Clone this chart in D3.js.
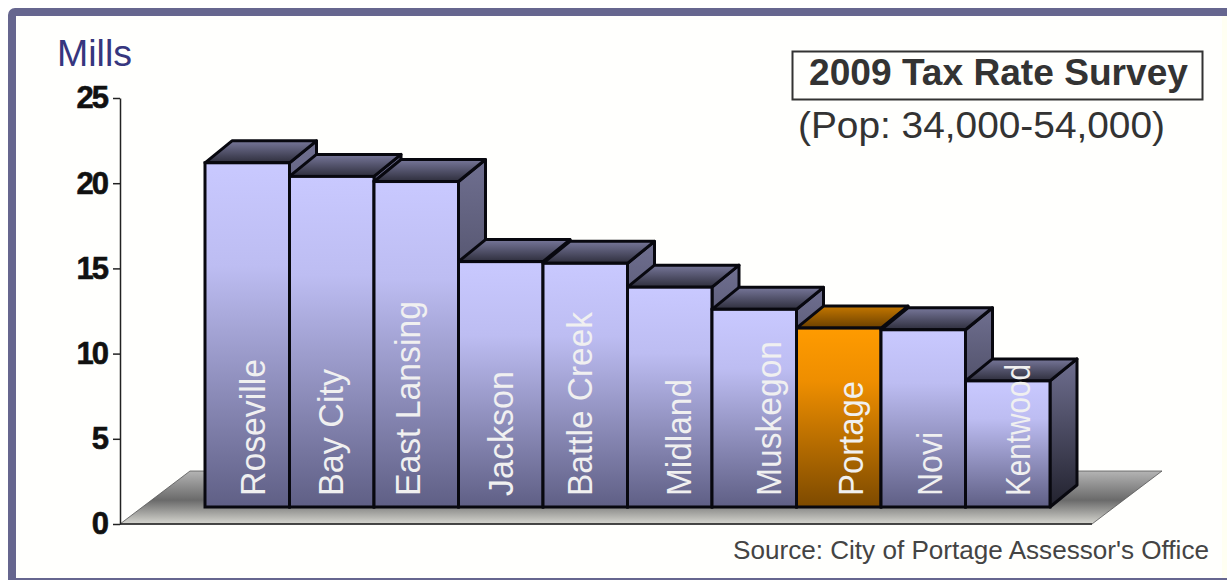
<!DOCTYPE html>
<html>
<head>
<meta charset="utf-8">
<script src="https://cdn.jsdelivr.net/npm/d3@7"></script>
<style>
  html, body { margin: 0; padding: 0; background: #fff; overflow: hidden; }
  text { font-family: "Liberation Sans", Arial, sans-serif; }
</style>
</head>
<body>
<div id="my_dataviz"></div>
<script>
var cities = ["Roseville", "Bay City", "East Lansing", "Jackson", "Battle Creek", "Midland", "Muskegon", "Portage", "Novi", "Kentwood"]
var mills = [20.2, 19.4, 19.1, 14.4, 14.3, 12.9, 11.6, 10.5, 10.4, 7.4]
var highlighted = ["Portage"]
var yTicks = [0, 5, 10, 15, 20, 25]

// the rotated labels are placed by hand in the original, so length and shift differ per bar
var labelLength = [137, 127, 195, 125, 184, 117, 155, 115, 64, 132]
var labelShift = [18, 11, 4, 12, 7, 21, 27, 24, 19, 22]

var width = 1227, height = 580
var depthX = 27, depthY = 22  // fake 3D offset of the bars
var baseLift = 17             // bars stand this far in from the front of the floor

var svg = d3.select("#my_dataviz")
  .append("svg")
    .attr("width", width)
    .attr("height", height)
    .style("display", "block")

var defs = svg.append("defs")

function gradient(id, stops) {
  var g = defs.append("linearGradient")
    .attr("id", id)
    .attr("x1", 0).attr("x2", 0).attr("y1", 0).attr("y2", 1)
  stops.forEach(function(s) {
    g.append("stop").attr("offset", s[0]).attr("stop-color", s[1])
  })
}
gradient("front", [[0, "#c9c9ff"], [0.3, "#bdbdf2"], [1, "#5f5f85"]])
gradient("frontHi", [[0, "#ff9b00"], [0.3, "#ee8e00"], [1, "#7d4a00"]])
gradient("topFace", [[0, "#77779a"], [1, "#2e2e3c"]])
gradient("topHi", [[0, "#c47700"], [1, "#6b4000"]])
gradient("side", [[0, "#6f6f90"], [1, "#22222e"]])
gradient("floor", [[0, "#b4b4b4"], [0.55, "#6a6a6a"], [1, "#d6d6d0"]])

// frame and background
svg.append("rect").attr("width", width).attr("height", height).attr("fill", "#ffffff")
svg.append("rect")
  .attr("x", 12).attr("y", 12)
  .attr("width", width + 20).attr("height", 570)
  .attr("rx", 3)
  .attr("fill", "#fffffd")
  .attr("stroke", "#66668f")
  .attr("stroke-width", 8)
svg.append("rect")
  .attr("x", 1222).attr("y", 16)
  .attr("width", 5).attr("height", 562)
  .attr("fill", "#fffff2")

// scales
var y = d3.scaleLinear().domain([0, 25]).range([524, 98])
var x = d3.scaleBand().domain(cities).range([205, 1050]).padding(0)

// floor
var floorPts = [[120, y(0)], [190, 471], [1162, 471], [1092, y(0)]]
svg.append("polygon")
  .attr("points", floorPts.join(" "))
  .attr("fill", "url(#floor)")
  .attr("stroke", "#555").attr("stroke-width", 0.8)
svg.append("line")
  .attr("x1", 120).attr("x2", 1092)
  .attr("y1", y(0)).attr("y2", y(0))
  .attr("stroke", "#222").attr("stroke-width", 1.5)

// y axis
var axis = svg.append("g")
  .attr("transform", "translate(120,0)")
  .call(d3.axisLeft(y).tickValues(yTicks).tickSize(7).tickPadding(6).tickSizeOuter(0))
axis.select(".domain").attr("stroke", "#222").attr("stroke-width", 1.5)
axis.selectAll(".tick line").attr("stroke", "#222").attr("stroke-width", 1.5)
axis.selectAll("text")
  .style("font-family", '"Liberation Sans", Arial, sans-serif')
  .style("font-size", "31px")
  .style("font-weight", "bold")
  .style("letter-spacing", "-2px")
  .attr("fill", "#111")
  .attr("stroke", "#111")
  .attr("stroke-width", 0.6)

// bars, left to right so each one paints over the sliver of the previous one
var base = y(0) - baseLift
function barTop(d, i) { return base - (y(0) - y(mills[i])) }

var bars = svg.selectAll("g.bar")
  .data(cities)
  .enter()
  .append("g")
    .attr("class", "bar")

bars.append("polygon")  // right side
  .attr("points", function(d, i) {
    var r = x(d) + x.bandwidth(), t = barTop(d, i)
    return [[r, t], [r + depthX, t - depthY], [r + depthX, base - depthY], [r, base]].join(" ")
  })
  .attr("fill", "url(#side)")
  .attr("stroke", "#08080f").attr("stroke-width", 3).attr("stroke-linejoin", "round")

bars.append("polygon")  // top face
  .attr("points", function(d, i) {
    var l = x(d), r = l + x.bandwidth(), t = barTop(d, i)
    return [[l, t], [l + depthX, t - depthY], [r + depthX, t - depthY], [r, t]].join(" ")
  })
  .attr("fill", function(d) { return highlighted.includes(d) ? "url(#topHi)" : "url(#topFace)" })
  .attr("stroke", "#08080f").attr("stroke-width", 3).attr("stroke-linejoin", "round")

bars.append("rect")     // front
  .attr("x", function(d) { return x(d) })
  .attr("y", barTop)
  .attr("width", x.bandwidth())
  .attr("height", function(d, i) { return base - barTop(d, i) })
  .attr("fill", function(d) { return highlighted.includes(d) ? "url(#frontHi)" : "url(#front)" })
  .attr("stroke", "#08080f").attr("stroke-width", 3)

// rotated city names go last, Kentwood runs over its own top face
svg.selectAll("text.city")
  .data(cities)
  .enter()
  .append("text")
    .attr("class", "city")
    .attr("transform", function(d, i) {
      return "translate(" + (x(d) + x.bandwidth() / 2 + labelShift[i]) + ",496)rotate(-90)"
    })
    .attr("textLength", function(d, i) { return labelLength[i] })
    .attr("lengthAdjust", "spacingAndGlyphs")
    .attr("fill", "#f0f0f0")
    .style("font-size", "35px")
    .text(function(d) { return d })

// titles
svg.append("text")
  .attr("x", 57).attr("y", 66)
  .attr("textLength", 75).attr("lengthAdjust", "spacingAndGlyphs")
  .attr("fill", "#36367e")
  .style("font-size", "37px")
  .text("Mills")

svg.append("rect")
  .attr("x", 792.5).attr("y", 51.5)
  .attr("width", 410).attr("height", 48)
  .attr("fill", "#fffffd")
  .attr("stroke", "#333").attr("stroke-width", 2)

svg.append("text")
  .attr("x", 809).attr("y", 85)
  .attr("textLength", 379).attr("lengthAdjust", "spacingAndGlyphs")
  .attr("fill", "#333")
  .style("font-size", "37px")
  .style("font-weight", "bold")
  .text("2009 Tax Rate Survey")

svg.append("text")
  .attr("x", 798).attr("y", 138)
  .attr("textLength", 367).attr("lengthAdjust", "spacingAndGlyphs")
  .attr("fill", "#333")
  .style("font-size", "37px")
  .text("(Pop: 34,000-54,000)")

svg.append("text")
  .attr("x", 733).attr("y", 559)
  .attr("textLength", 476).attr("lengthAdjust", "spacingAndGlyphs")
  .attr("fill", "#444")
  .style("font-size", "26px")
  .text("Source: City of Portage Assessor's Office")
</script>
</body>
</html>
